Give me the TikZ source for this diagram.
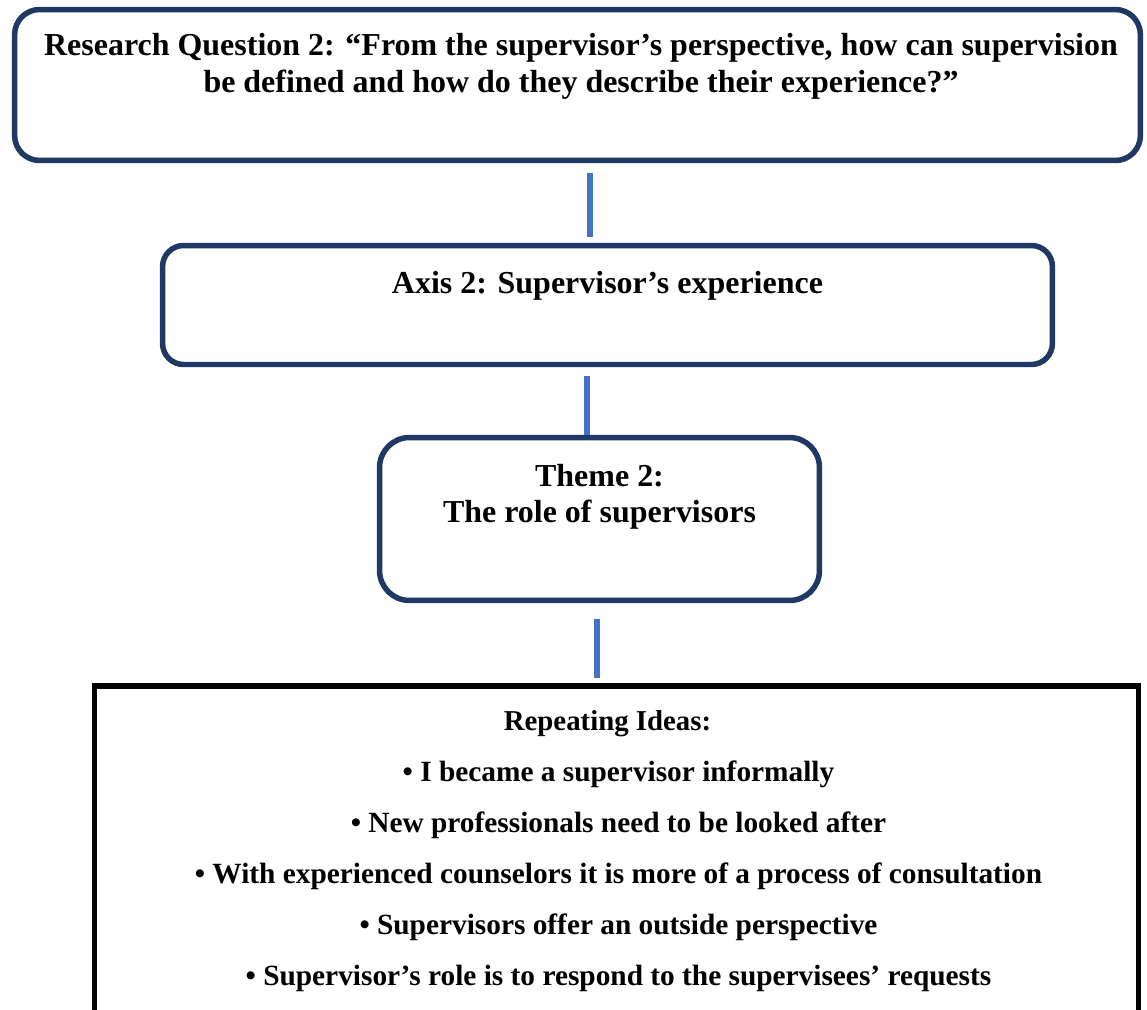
\documentclass[tikz,border=0pt]{standalone}
\usepackage{fontspec}
\setmainfont{Liberation Serif}
\usetikzlibrary{positioning}
\definecolor{boxnavy}{HTML}{1F3864}
\definecolor{linkblue}{HTML}{4472C4}

\begin{document}
\begin{tikzpicture}[x=0.02cm,y=-0.02cm,
                roundbox/.style={draw=boxnavy,line width=0.11cm,fill=white},
                ideabox/.style={draw=black,line width=0.11cm,fill=white},
                txt/.style={align=center,inner sep=0pt,font=\fontsize{18.2}{21}\selectfont\bfseries},
                idea/.style={align=center,inner sep=0pt,font=\fontsize{16.7}{29}\selectfont\bfseries},
                link/.style={draw=linkblue,line width=0.12cm}]
            \path[use as bounding box] (0,0) rectangle (1147,1009);
            \clip (0,0) rectangle (1147,1009);

            \node [roundbox,rounded corners=0.5cm,minimum width=22.52cm,minimum height=3.02cm]  (rq)    at (577.5,85)   {};
            \node [roundbox,rounded corners=0.42cm,minimum width=17.8cm,minimum height=2.38cm]  (axis)  at (607.5,305)  {};
            \node [roundbox,rounded corners=0.6cm,minimum width=8.8cm,minimum height=3.26cm]    (theme) at (599.5,519)  {};
            \node [ideabox,minimum width=20.88cm,minimum height=7.5cm]                          (ideas) at (616.5,873.5) {};

            \node [txt]  (rqtext)    at ([xshift=0.07cm,yshift=-1.2cm]rq.north)
                {Research Question 2: “From the supervisor’s perspective, how can supervision\\
                 be defined and how do they describe their experience?”};
            \node [txt]  (axistext)  at ([yshift=-0.86cm]axis.north)  {Axis 2: Supervisor’s experience};
            \node [txt]  (themetext) at ([yshift=-1.24cm]theme.north) {Theme 2:\\The role of supervisors};
            \node [idea] (ideastext) at ([xshift=0.04cm,yshift=-3.35cm]ideas.north)
                {{\fontsize{16.4}{29}\selectfont Repeating Ideas:\hspace*{0.44cm}}\\
                 • I became a supervisor informally\\
                 • New professionals need to be looked after\\
                 • With experienced counselors it is more of a process of consultation\\
                 • Supervisors offer an outside perspective\\
                 • Supervisor’s role is to respond to the supervisees’ requests};

            \draw [link,shorten <=0.2cm,shorten >=0.12cm]  ([xshift=0.25cm]rq.south)     -- ([xshift=0.25cm]rq.south |- axis.north);
            \draw [link,shorten <=0.18cm]                  ([xshift=-0.41cm]axis.south)  -- ([xshift=-0.41cm]axis.south |- theme.north);
            \draw [link,shorten <=0.32cm,shorten >=0.1cm]  ([xshift=-0.05cm]theme.south) -- ([xshift=-0.05cm]theme.south |- ideas.north);
        \end{tikzpicture}
\end{document}
